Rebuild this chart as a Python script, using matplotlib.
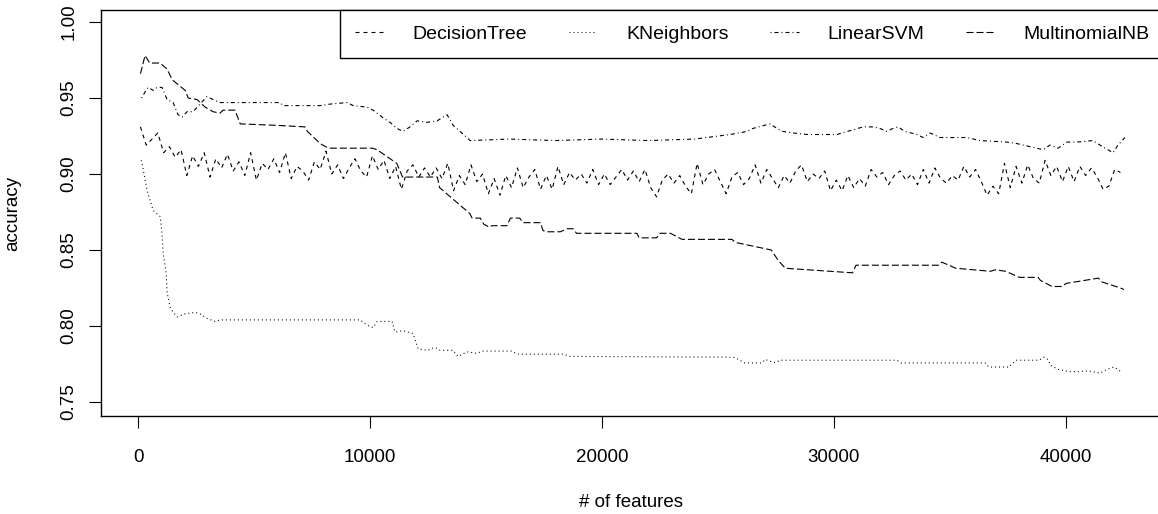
import numpy as np
import matplotlib
matplotlib.use("Agg")
import matplotlib.pyplot as plt

# accuracy vs number of features
dt_step = 250
dt_acc = [
    0.931, 0.919, 0.923, 0.927, 0.914, 0.918, 0.911, 0.916, 0.899, 0.912,
    0.905, 0.914, 0.898, 0.910, 0.904, 0.913, 0.902, 0.908, 0.899, 0.914,
    0.896, 0.907, 0.903, 0.910, 0.901, 0.914, 0.897, 0.905, 0.902, 0.896,
    0.908, 0.903, 0.915, 0.900, 0.906, 0.897, 0.904, 0.910, 0.902, 0.898,
    0.912, 0.903, 0.909, 0.897, 0.905, 0.890, 0.902, 0.906, 0.898, 0.904,
    0.898, 0.904, 0.897, 0.907, 0.889, 0.899, 0.893, 0.906, 0.895, 0.900,
    0.887, 0.897, 0.886, 0.899, 0.891, 0.904, 0.891, 0.898, 0.903, 0.890,
    0.899, 0.890, 0.905, 0.893, 0.901, 0.896, 0.900, 0.894, 0.903, 0.893,
    0.900, 0.893, 0.898, 0.903, 0.896, 0.902, 0.895, 0.903, 0.891, 0.885,
    0.896, 0.900, 0.894, 0.899, 0.892, 0.887, 0.907, 0.893, 0.900, 0.903,
    0.895, 0.887, 0.898, 0.901, 0.893, 0.897, 0.906, 0.894, 0.903, 0.897,
    0.891, 0.899, 0.894, 0.902, 0.906, 0.895, 0.900, 0.897, 0.902, 0.889,
    0.896, 0.889, 0.899, 0.891, 0.897, 0.892, 0.903, 0.898, 0.901, 0.893,
    0.899, 0.902, 0.896, 0.900, 0.893, 0.903, 0.894, 0.904, 0.897, 0.894,
    0.899, 0.896, 0.905, 0.898, 0.903, 0.895, 0.886, 0.892, 0.887, 0.907,
    0.891, 0.905, 0.894, 0.906, 0.897, 0.894, 0.909, 0.899, 0.905, 0.895,
    0.905, 0.895, 0.905, 0.899, 0.904, 0.898, 0.890, 0.892, 0.903, 0.901,
]
dt_x = np.arange(100, 100 + dt_step * len(dt_acc), dt_step)

knn_x = [130, 170, 390, 650, 950, 1030, 1080, 1210, 1250, 1380,
         1510, 1680, 2030, 2460, 2670, 2970, 3320, 3530, 9570, 9870,
         10130, 10300, 10950, 11080, 11420, 11850, 12070, 12460, 12800, 13020,
         13580, 13790, 14180, 14610, 14830, 16120, 16340, 18320, 18620, 25650,
         25820, 26160, 26900, 27030, 27410, 27760, 32720, 32890, 36510, 36680,
         37540, 37840, 38840, 39050, 39220, 39350, 39660, 40170, 40600, 40950,
         41470, 41770, 42070, 42410]
knn_acc = [0.909, 0.907, 0.889, 0.876, 0.872, 0.861, 0.848, 0.835, 0.822, 0.8125,
           0.809, 0.806, 0.808, 0.809, 0.808, 0.805, 0.803, 0.804, 0.804, 0.8005,
           0.799, 0.803, 0.803, 0.796, 0.797, 0.795, 0.785, 0.784, 0.786, 0.784,
           0.784, 0.780, 0.783, 0.782, 0.7835, 0.7835, 0.7815, 0.7815, 0.780, 0.7795,
           0.7785, 0.7757, 0.7757, 0.778, 0.776, 0.7775, 0.7775, 0.7757, 0.7757, 0.773,
           0.773, 0.7775, 0.7775, 0.7795, 0.778, 0.774, 0.7715, 0.770, 0.770, 0.7705,
           0.769, 0.7715, 0.773, 0.7697]

svm_x = [150, 300, 430, 650, 820, 1030, 1250, 1510, 1720, 1900,
         2110, 2370, 2670, 2970, 3230, 3530, 6120, 6250, 7840, 8280,
         9010, 9270, 9870, 10130, 10560, 10860, 11160, 11420, 11720, 12030,
         12460, 12890, 13320, 13580, 13880, 14180, 14310, 16000, 18000, 20000,
         22000, 24000, 25520, 26250, 26510, 27240, 27540, 27800, 28230, 28840,
         30130, 30560, 30820, 31250, 31680, 31980, 32280, 32540, 32760, 33060,
         33580, 33840, 34140, 34570, 35730, 36290, 37460, 37890, 38450, 39010,
         39310, 39660, 40040, 40470, 41160, 41470, 42030, 42240, 42540]
svm_acc = [0.950, 0.954, 0.957, 0.955, 0.957, 0.957, 0.949, 0.947, 0.939, 0.9375,
           0.941, 0.941, 0.946, 0.951, 0.949, 0.947, 0.947, 0.945, 0.945, 0.946,
           0.947, 0.945, 0.944, 0.942, 0.937, 0.934, 0.930, 0.928, 0.931, 0.935,
           0.934, 0.935, 0.939, 0.932, 0.928, 0.924, 0.922, 0.923, 0.922, 0.923,
           0.922, 0.923, 0.926, 0.928, 0.930, 0.933, 0.930, 0.928, 0.927, 0.926,
           0.926, 0.928, 0.929, 0.931, 0.931, 0.930, 0.928, 0.930, 0.931, 0.928,
           0.926, 0.924, 0.927, 0.924, 0.924, 0.922, 0.921, 0.920, 0.918, 0.916,
           0.919, 0.917, 0.921, 0.921, 0.922, 0.919, 0.914, 0.919, 0.924]

nb_x = [100, 300, 500, 950, 1250, 1470, 2030, 2160, 2540, 2890,
        3230, 3530, 3660, 4180, 4400, 6000, 7200, 7300, 7850, 8200,
        9150, 10100, 10300, 11150, 11400, 12900, 13000, 14300, 14400, 14750,
        14900, 15150, 15250, 15900, 16050, 16450, 16600, 17350, 17450, 17550,
        18200, 18500, 18750, 18900, 19800, 19900, 21200, 21500, 21600, 22350,
        22500, 22950, 23450, 25600, 25750, 27300, 27600, 27900, 30800, 30950,
        31550, 31900, 34500, 34650, 34950, 35250, 36750, 36950, 37400, 37550,
        38000, 38150, 38800, 38900, 39400, 39850, 40000, 41400, 41550, 42350,
        42500]
nb_acc = [0.966, 0.978, 0.973, 0.973, 0.969, 0.962, 0.955, 0.950, 0.949, 0.944,
          0.941, 0.940, 0.942, 0.942, 0.933, 0.932, 0.931, 0.928, 0.920, 0.917,
          0.917, 0.917, 0.916, 0.907, 0.898, 0.898, 0.891, 0.874, 0.871, 0.871,
          0.867, 0.865, 0.866, 0.866, 0.871, 0.871, 0.868, 0.868, 0.863, 0.862,
          0.862, 0.864, 0.864, 0.861, 0.861, 0.861, 0.861, 0.861, 0.858, 0.858,
          0.861, 0.861, 0.857, 0.857, 0.855, 0.850, 0.843, 0.838, 0.835, 0.840,
          0.840, 0.840, 0.840, 0.842, 0.840, 0.838, 0.836, 0.837, 0.836, 0.835,
          0.832, 0.832, 0.832, 0.830, 0.826, 0.826, 0.828, 0.8315, 0.829, 0.825,
          0.824]

labels = ["DecisionTree", "KNeighbors", "LinearSVM", "MultinomialNB"]

plt.rcParams['font.family'] = ['Liberation Sans', 'DejaVu Sans']
plt.rcParams['font.size'] = 13.5
plt.rcParams['lines.scale_dashes'] = False

fig = plt.figure(figsize=(11.58, 5.14), dpi=100)
# plot box runs a few pixels past the right edge, as in the original
ax = fig.add_axes([101 / 1158, 98 / 514, 1064 / 1158, 406 / 514])

px = 0.72  # one pixel in points
lw = 0.8
ax.plot(dt_x, dt_acc, color="black", lw=lw, ls=(0, (4 * px, 4 * px)), label=labels[0])
ax.plot(knn_x, knn_acc, color="black", lw=lw, ls=(0, (1 * px, 3 * px)), label=labels[1])
ax.plot(svm_x, svm_acc, color="black", lw=lw,
        ls=(0, (1 * px, 3 * px, 4 * px, 3 * px)), label=labels[2])
ax.plot(nb_x, nb_acc, color="black", lw=lw, ls=(0, (7 * px, 3 * px)), label=labels[3])

ax.set_xlim(-1600, 44270)
ax.set_ylim(0.7408, 1.0079)

ax.set_xticks([0, 10000, 20000, 30000, 40000])
ax.set_xticklabels(["0", "10000", "20000", "30000", "40000"])
yt = [0.75, 0.80, 0.85, 0.90, 0.95, 1.00]
ax.set_yticks(yt)
ax.set_yticklabels([f"{v:.2f}" for v in yt], rotation=90, va="center")
ax.tick_params(axis="x", length=8.8, width=0.8, pad=15)
ax.tick_params(axis="y", length=8.8, width=0.8, pad=8)

for s in ax.spines.values():
    s.set_linewidth(1.0)

ax.set_xlabel("# of features")
ax.set_ylabel("accuracy")
ax.xaxis.set_label_coords(530 / 1064, -78 / 406)
ax.yaxis.set_label_coords(-80 / 1064, 0.5)

leg = ax.legend(loc="upper right", ncol=4, borderaxespad=0, fancybox=False,
                framealpha=1, edgecolor="black", fontsize=14, handlelength=1.45,
                handletextpad=1.5, columnspacing=2.15, borderpad=0.78)
leg.get_frame().set_linewidth(1.0)

fig.savefig("out.png", dpi=100)
